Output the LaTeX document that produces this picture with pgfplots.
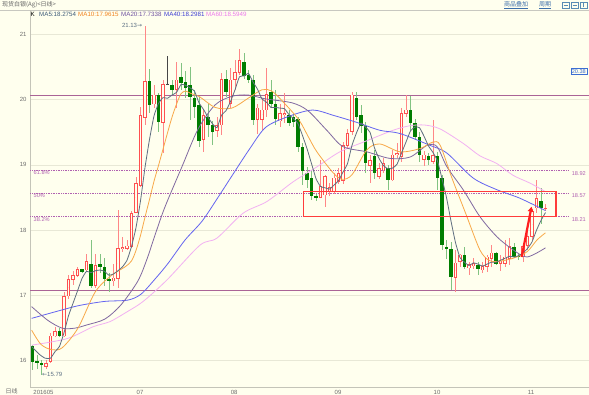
\documentclass[border=0pt]{standalone}
\usepackage{fontspec}
\setmainfont{Liberation Sans}
\newfontfamily\cjk{Noto Sans CJK SC}
\newfontfamily\dv{DejaVu Sans}
\usepackage{pgfplots}
\pgfplotsset{compat=1.18}
\usepackage{pgfplotstable}
\usetikzlibrary{arrows.meta}

\definecolor{bg}{RGB}{255,255,238}
\definecolor{gridc}{RGB}{232,232,214}
\definecolor{axisc}{RGB}{196,196,184}
\definecolor{barline}{RGB}{200,200,192}
\definecolor{titlec}{RGB}{100,100,100}
\definecolor{linkc}{RGB}{60,110,170}
\definecolor{iconc}{RGB}{90,140,180}
\definecolor{tickc}{RGB}{110,110,110}
\definecolor{redc}{RGB}{255,80,80}
\definecolor{rwick}{RGB}{255,135,135}
\definecolor{greenc}{RGB}{0,125,0}
\definecolor{gwick}{RGB}{130,195,130}
\definecolor{dojic}{RGB}{70,70,70}
\definecolor{ma5c}{RGB}{95,110,128}
\definecolor{ma10c}{RGB}{248,168,72}
\definecolor{ma20c}{RGB}{128,104,160}
\definecolor{ma40c}{RGB}{100,100,240}
\definecolor{ma60c}{RGB}{242,176,242}
\definecolor{ma5t}{RGB}{60,90,120}
\definecolor{ma10t}{RGB}{240,130,30}
\definecolor{ma20t}{RGB}{110,80,160}
\definecolor{ma40t}{RGB}{60,60,210}
\definecolor{ma60t}{RGB}{235,120,235}
\definecolor{purpl}{RGB}{170,100,150}
\definecolor{fibc}{RGB}{176,96,176}
\definecolor{boxred}{RGB}{255,60,60}
\definecolor{arrred}{RGB}{255,30,30}
\definecolor{labc}{RGB}{90,110,130}
\definecolor{bluebox}{RGB}{60,110,210}

\pgfplotsset{candle/.style={only marks, mark=*, mark size=0pt,
  mark options={draw=none, fill=none}, forget plot}}

\pgfplotstableread{
i o h l c
3 15.91 16.01 15.88 15.96
4 15.99 16.43 15.96 16.38
5 16.38 16.52 16.36 16.45
7 16.38 17.06 16.36 16.99
8 16.99 17.31 16.95 17.25
9 17.24 17.38 17.16 17.31
10 17.31 17.43 17.29 17.40
12 17.39 17.63 17.36 17.52
14 17.15 17.63 17.11 17.46
18 17.22 17.49 17.15 17.27
19 17.26 18.31 17.11 17.72
20 17.71 17.90 17.66 17.74
21 17.72 17.85 17.69 17.76
22 17.75 18.29 17.72 18.26
23 18.27 18.82 18.26 18.72
24 18.68 19.89 18.66 19.76
25 19.73 21.13 19.61 20.28
27 19.93 20.23 19.87 20.07
29 19.65 20.30 19.18 20.23
32 20.15 20.58 19.87 20.30
38 19.39 19.84 19.20 19.76
41 19.53 19.74 19.43 19.60
42 19.61 20.40 19.46 20.31
44 19.94 20.48 19.87 20.30
45 20.31 20.61 20.15 20.42
46 20.41 20.77 20.38 20.60
50 19.69 19.94 19.48 19.87
51 19.70 20.02 19.53 19.84
52 19.84 20.48 19.74 20.08
55 19.67 19.94 19.58 19.79
56 19.77 20.10 19.64 19.79
64 18.50 19.07 18.49 18.67
65 18.54 18.85 18.36 18.82
66 18.60 18.72 18.52 18.66
67 18.59 18.88 18.56 18.80
68 18.74 18.95 18.70 18.87
69 18.76 19.35 18.70 19.30
70 19.30 19.55 19.25 19.48
71 19.51 20.12 19.46 20.07
75 18.99 19.15 18.72 19.07
77 18.82 19.03 18.79 18.95
78 18.92 19.10 18.88 19.02
80 18.77 19.23 18.75 19.15
81 19.15 19.33 19.10 19.18
82 19.13 19.87 19.05 19.79
83 19.79 20.07 19.74 19.84
87 19.08 19.22 18.98 19.15
89 19.05 19.69 19.02 19.14
94 17.27 17.70 17.06 17.50
95 17.52 17.64 17.44 17.62
97 17.42 17.52 17.32 17.47
98 17.45 17.57 17.40 17.49
100 17.39 17.52 17.35 17.44
101 17.44 17.62 17.36 17.59
102 17.57 17.77 17.44 17.65
104 17.49 17.62 17.38 17.53
105 17.49 17.85 17.44 17.59
106 17.57 17.88 17.47 17.75
109 17.59 17.78 17.52 17.75
110 17.76 18.05 17.70 17.90
111 17.90 18.32 17.85 18.29
112 18.34 18.77 18.26 18.49
114 18.33 18.40 18.30 18.34
}\up

\pgfplotstableread{
i o h l c
0 16.22 16.24 15.86 15.98
1 15.99 16.09 15.88 15.96
2 15.97 16.01 15.79 15.93
6 16.45 16.50 16.36 16.38
11 17.40 17.41 17.34 17.36
13 17.49 17.85 17.11 17.15
15 17.48 17.63 17.34 17.44
16 17.44 17.57 17.15 17.26
17 17.26 17.34 17.06 17.22
26 20.28 20.47 19.79 19.92
28 20.07 20.10 19.51 19.65
31 20.23 20.30 20.07 20.14
33 20.34 20.56 20.15 20.26
34 20.27 20.44 20.03 20.18
35 20.22 20.50 19.69 20.04
36 20.02 20.15 19.72 19.89
37 19.92 20.04 19.28 19.36
39 19.74 19.94 19.43 19.61
40 19.61 19.68 19.30 19.51
43 20.31 20.45 20.04 20.12
47 20.58 20.72 20.31 20.36
48 20.38 20.45 20.25 20.30
49 20.30 20.38 19.61 19.69
53 20.11 20.30 19.89 19.93
54 19.94 20.15 19.61 19.70
57 19.76 19.84 19.60 19.64
58 19.73 19.78 19.58 19.65
59 19.70 19.74 19.20 19.28
60 19.28 19.33 18.69 18.90
61 18.88 18.97 18.64 18.77
62 18.80 18.90 18.46 18.52
63 18.52 18.55 18.44 18.49
72 20.02 20.12 19.69 19.74
73 19.76 19.91 19.49 19.59
74 19.59 19.65 18.88 19.03
76 19.13 19.23 18.79 18.87
79 18.95 19.00 18.62 18.77
84 19.84 20.06 19.52 19.64
85 19.64 19.70 19.38 19.43
86 19.43 19.50 19.05 19.15
88 19.14 19.18 19.00 19.08
90 19.14 19.20 18.62 18.80
91 18.80 18.85 17.70 17.77
92 17.75 17.85 17.56 17.71
93 17.71 17.82 17.08 17.29
96 17.62 17.74 17.41 17.44
99 17.47 17.52 17.32 17.40
103 17.65 17.67 17.46 17.49
107 17.75 17.80 17.57 17.59
108 17.61 17.65 17.55 17.59
113 18.44 18.64 18.10 18.34
}\dn

\begin{document}
\begin{tikzpicture}
\useasboundingbox (0pt,0pt) rectangle (589pt,395pt);
\fill[bg] (0pt,0pt) rectangle (589pt,395pt);
\draw[barline, line width=0.8pt] (0pt,384.6pt) -- (589pt,384.6pt);

\begin{axis}[
  at={(30.5pt,8pt)}, anchor=south west,
  scale only axis, width=558.5pt, height=376.5pt,
  xmin=-0.444, xmax=123.667, ymin=15.599, ymax=21.3645,
  clip=false,
  axis line style={draw=none},
  major tick length=0pt,
  ytick={16,17,18,19,20,21},
  xtick={2.44,23.9,44.8,67.9,89.9,110.8},
  xticklabels={201605,07,08,09,10,11},
  ymajorgrids,
  grid style={gridc, line width=0.8pt},
  /pgf/number format/assume math mode=true,
  tick label style={font=\fontsize{6}{7}\selectfont, text=tickc},
  yticklabel style={xshift=-0.5pt},
  xticklabel style={yshift=0.5pt},
]
% axis lines
\draw[axisc, line width=0.8pt] (rel axis cs:0,0) -- (rel axis cs:0,1);
\draw[axisc, line width=0.8pt] (rel axis cs:0,0) -- (rel axis cs:1,0);

% horizontal purple lines
\addplot[purpl, line width=0.9pt] coordinates {(-0.444,20.07) (123.667,20.07)};
\addplot[purpl, line width=0.9pt] coordinates {(-0.444,17.07) (123.667,17.07)};
% fib lines
\addplot[fibc, densely dotted, line width=0.7pt] coordinates {(-0.444,18.92) (119,18.92)};
\addplot[fibc, densely dotted, line width=0.7pt] coordinates {(-0.444,18.57) (119,18.57)};
\addplot[fibc, densely dotted, line width=0.7pt] coordinates {(-0.444,18.21) (119,18.21)};

% down candles: wicks and filled bodies
\addplot[candle,
  error bars/.cd, y dir=both, y explicit, error mark=none,
  error bar style={draw=gwick, line width=0.9pt}]
  table[x=i, y expr={(\thisrow{h}+\thisrow{l})/2}, y error expr={(\thisrow{h}-\thisrow{l})/2}] {\dn};
\addplot[candle,
  error bars/.cd, y dir=both, y explicit, error mark=none,
  error bar style={draw=greenc, line width=3.2pt}]
  table[x=i, y expr={(\thisrow{o}+\thisrow{c})/2}, y error expr={max((\thisrow{o}-\thisrow{c})/2,0.008)}] {\dn};

% up candles: wicks, red outline, hollow inside
\addplot[candle,
  error bars/.cd, y dir=both, y explicit, error mark=none,
  error bar style={draw=rwick, line width=0.9pt}]
  table[x=i, y expr={(\thisrow{h}+\thisrow{l})/2}, y error expr={(\thisrow{h}-\thisrow{l})/2}] {\up};
\addplot[candle,
  error bars/.cd, y dir=both, y explicit, error mark=none,
  error bar style={draw=redc, line width=3.3pt}]
  table[x=i, y expr={(\thisrow{o}+\thisrow{c})/2}, y error expr={(\thisrow{c}-\thisrow{o})/2+0.005}] {\up};
\addplot[candle,
  error bars/.cd, y dir=both, y explicit, error mark=none,
  error bar style={draw=bg, line width=1.9pt}]
  table[x=i, y expr={(\thisrow{o}+\thisrow{c})/2}, y error expr={max((\thisrow{c}-\thisrow{o})/2-0.006,0)}] {\up};

% doji candle
\addplot[candle,
  error bars/.cd, y dir=both, y explicit, error mark=none,
  error bar style={draw=dojic, line width=0.9pt}]
  coordinates {(30,20.445) +- (0,0.225)};
\addplot[candle,
  error bars/.cd, y dir=both, y explicit, error mark=none,
  error bar style={draw=dojic, line width=3.3pt}]
  coordinates {(30,20.24) +- (0,0.006)};

% moving averages
\addplot[ma60c, line width=0.8pt, smooth, tension=0.5] coordinates {
(-0.2,16.24) (7.7,16.34) (13.4,16.52) (17.2,16.60) (21.0,16.75) (24.6,16.91) (29.9,17.24) (37.2,17.77) (41.0,17.88) (46.8,18.26) (52.1,18.44) (57.9,18.74) (63.2,18.97) (68.3,19.20) (74.3,19.37) (80.1,19.53) (83.9,19.60) (87.2,19.61) (90.6,19.55) (95.7,19.33) (99.4,19.14) (103.2,19.02) (106.8,18.84) (110.6,18.72) (114,18.59)};
\addplot[ma40c, line width=0.8pt, smooth, tension=0.5] coordinates {
(-0.2,16.65) (6.6,16.78) (10.6,16.85) (16.1,16.91) (21.2,16.93) (24.1,17.02) (27.2,17.25) (30.1,17.49) (33.9,17.85) (37.7,18.14) (41.2,18.50) (44.3,18.83) (48.3,19.25) (51.9,19.58) (57.2,19.75) (62.3,19.84) (66.8,19.76) (72.1,19.65) (77.2,19.53) (81.7,19.48) (88.3,19.30) (92.1,19.18) (97.9,18.80) (103.2,18.62) (108.3,18.49) (114,18.30)};
\addplot[ma20c, line width=0.8pt, smooth, tension=0.5] coordinates {
(-0.2,16.83) (3.4,16.62) (6.6,16.50) (9.4,16.50) (12.1,16.55) (16.1,16.64) (19.7,16.86) (23.4,17.22) (25.4,17.55) (27.2,17.92) (29.4,18.35) (33.2,18.97) (36.8,19.55) (40.6,19.92) (44.3,20.05) (47.9,20.07) (51.9,20.01) (57.7,19.95) (61.2,19.83) (65.4,19.53) (69.0,19.28) (74.3,19.20) (79.4,19.10) (83.9,19.12) (87.7,19.30) (89.9,19.28) (92.1,18.97) (95.7,18.62) (99.4,18.21) (103.2,17.90) (106.8,17.70) (109.9,17.59) (114,17.73)};
\addplot[ma10c, line width=0.8pt, smooth, tension=0.5] coordinates {
(-0.2,16.47) (1.9,16.25) (4.3,16.17) (6.6,16.20) (10.1,16.50) (13.9,17.05) (17.4,17.30) (20.6,17.44) (22,17.53) (23,17.69) (24,17.92) (25,18.20) (26,18.47) (27,18.75) (28,18.99) (29,19.24) (30,19.49) (31,19.73) (32,19.93) (33,20.09) (34,20.13) (35,20.10) (37.2,20.04) (40.6,19.88) (44.3,19.87) (47.9,20.02) (51,20.15) (53.2,20.13) (55.9,19.95) (59.2,19.69) (61.3,19.43) (63.2,19.20) (66.8,18.88) (68.8,18.78) (71,18.85) (74.3,19.23) (77.2,19.32) (81.7,19.20) (86.1,19.25) (89,19.35) (90.6,19.30) (93.2,18.80) (96.3,18.25) (99.4,17.70) (101.4,17.54) (103.2,17.52) (106.8,17.57) (109.9,17.67) (112.1,17.85) (114,17.96)};
\addplot[ma5c, line width=0.8pt, smooth, tension=0.3] coordinates {
(-0.2,16.22) (1.5,16.10) (2.8,16.04) (4,16.04) (5,16.14) (6,16.22) (7,16.43) (8,16.69) (9,16.88) (10,17.07) (11,17.26) (12,17.37) (13,17.35) (14,17.38) (15,17.39) (16,17.37) (17,17.31) (18,17.33) (19,17.38) (20,17.44) (21,17.54) (22,17.75) (23,18.04) (24,18.45) (25,18.96) (26,19.39) (27,19.75) (28,19.94) (29,20.03) (30,20.02) (31,20.07) (32,20.11) (33,20.23) (34,20.22) (35,20.18) (36,20.13) (37,19.95) (38,19.85) (39,19.73) (40,19.63) (41,19.57) (42,19.76) (43,19.83) (44,19.97) (45,20.15) (46,20.35) (47,20.36) (48,20.40) (49,20.27) (50,20.16) (51,20.01) (52,19.96) (53,19.88) (54,19.88) (55,19.87) (56,19.86) (57,19.77) (58,19.71) (59,19.63) (60,19.45) (61,19.25) (62,19.02) (63,18.79) (64,18.67) (65,18.65) (66,18.63) (67,18.69) (68,18.76) (69,18.89) (70,19.02) (71,19.30) (72,19.49) (73,19.64) (74,19.58) (75,19.50) (76,19.26) (77,19.10) (78,18.99) (79,18.94) (80,18.95) (81,19.01) (82,19.18) (83,19.35) (84,19.52) (85,19.58) (86,19.57) (87,19.44) (88,19.29) (89,19.19) (90,19.06) (91,18.79) (92,18.50) (93,18.14) (94,17.81) (95,17.58) (96,17.51) (97,17.46) (98,17.50) (99,17.48) (100,17.45) (101,17.48) (102,17.51) (103,17.51) (104,17.54) (105,17.57) (106,17.60) (107,17.59) (108,17.61) (109,17.65) (110,17.72) (111,17.82) (112,18.00) (113,18.15) (114,18.27)};

% annotations
\draw[boxred, line width=1.5pt] (axis cs:60.2,18.21) rectangle (axis cs:116.3,18.59);
\draw[arrred, line width=2.2pt, -{Triangle[length=5pt,width=5.5pt]}] (axis cs:108.7,17.59) -- (axis cs:110.9,18.36);

\node[anchor=east, inner sep=0.5pt, text=labc, font=\fontsize{6}{7}\selectfont] at (axis cs:24.5,21.13) {21.13{\dv\fontsize{6}{7}\selectfont →}};
\node[anchor=west, inner sep=0.5pt, text=labc, font=\fontsize{6}{7}\selectfont] at (axis cs:2.0,15.79) {{\dv\fontsize{6}{7}\selectfont ←}15.79};

\node[anchor=north west, inner sep=0.6pt, text=fibc, font=\fontsize{5.6}{6}\selectfont] at (axis cs:0.1,18.92) {61.8\%};
\node[anchor=north west, inner sep=0.6pt, text=fibc, font=\fontsize{5.6}{6}\selectfont] at (axis cs:0.1,18.57) {50\%};
\node[anchor=north west, inner sep=0.6pt, text=fibc, font=\fontsize{5.6}{6}\selectfont] at (axis cs:0.1,18.21) {38.2\%};
\node[anchor=north, inner sep=0.8pt, text=fibc, font=\fontsize{5.6}{6}\selectfont] at (axis cs:121.4,18.92) {18.92};
\node[anchor=north, inner sep=0.8pt, text=fibc, font=\fontsize{5.6}{6}\selectfont] at (axis cs:121.4,18.57) {18.57};
\node[anchor=north, inner sep=0.8pt, text=fibc, font=\fontsize{5.6}{6}\selectfont] at (axis cs:121.4,18.21) {18.21};
\node[draw=bluebox, line width=0.5pt, inner sep=1pt, text=bluebox, fill=bg, font=\fontsize{5.6}{6}\selectfont] at (axis cs:121.4,20.43) {20.38};
\end{axis}

% top labels
\node[anchor=west, inner sep=0pt, text=titlec, font=\cjk\fontsize{6}{7}\selectfont] at (2pt,390pt) {现货白银(Ag)<日线>};
\node[anchor=west, inner sep=0pt, text=linkc, font=\cjk\fontsize{6}{7}\selectfont] at (504pt,389.5pt) {\underline{商品叠加}};
\node[anchor=west, inner sep=0pt, text=linkc, font=\cjk\fontsize{6}{7}\selectfont] at (539pt,389.5pt) {\underline{周期}};
\draw[iconc, line width=0.6pt] (562pt,386.5pt) rectangle (569pt,393pt);
\draw[iconc, line width=0.6pt] (571pt,386.5pt) rectangle (578pt,393pt);
\draw[iconc, line width=0.6pt] (580pt,386.5pt) rectangle (587pt,393pt);
\draw[iconc, line width=0.5pt] (563.5pt,389.75pt) -- (567.5pt,389.75pt);
\draw[iconc, line width=0.5pt] (572.5pt,389.75pt) -- (576.5pt,389.75pt);
\draw[iconc, line width=0.5pt] (583.5pt,387.5pt) -- (583.5pt,392pt);

% MA legend
\node[anchor=west, inner sep=0pt, text=black, font=\fontsize{6.2}{7}\selectfont] at (30.5pt,380.5pt) {K};
\node[anchor=west, inner sep=0pt, text=ma5t, font=\fontsize{6.2}{7}\selectfont] at (39pt,380.5pt) {MA5:18.2754};
\node[anchor=west, inner sep=0pt, text=ma10t, font=\fontsize{6.2}{7}\selectfont] at (78pt,380.5pt) {MA10:17.9615};
\node[anchor=west, inner sep=0pt, text=ma20t, font=\fontsize{6.2}{7}\selectfont] at (121pt,380.5pt) {MA20:17.7338};
\node[anchor=west, inner sep=0pt, text=ma40t, font=\fontsize{6.2}{7}\selectfont] at (164pt,380.5pt) {MA40:18.2981};
\node[anchor=west, inner sep=0pt, text=ma60t, font=\fontsize{6.2}{7}\selectfont] at (206pt,380.5pt) {MA60:18.5949};

% bottom-left label
\node[anchor=center, inner sep=0pt, text=tickc, font=\cjk\fontsize{6}{7}\selectfont] at (11.5pt,4pt) {日线};
\end{tikzpicture}
\end{document}
